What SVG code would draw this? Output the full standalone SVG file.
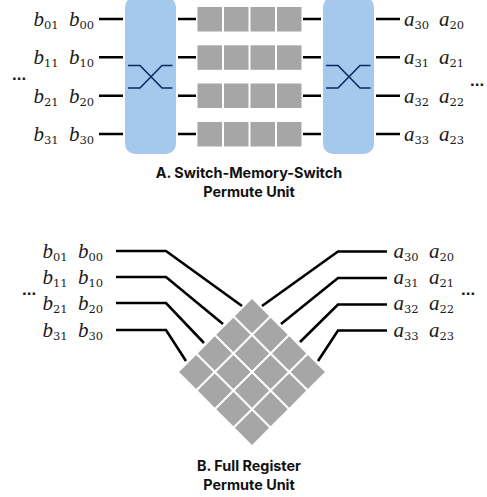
<svg xmlns="http://www.w3.org/2000/svg" width="487" height="497" viewBox="0 0 487 497">
<style>
.w{fill:none;stroke:#000;stroke-width:2.6}
.x{fill:none;stroke:#0b2a66;stroke-width:1.6}
.s{fill:#a5c9ec}
.t{fill:#a6a6a6}
.m{font-family:"Liberation Serif",serif;font-style:italic;font-size:21px;fill:#1a1a1a}
.m tspan{font-family:"DejaVu Serif",serif;font-style:normal;font-size:11.5px}
.d{font-family:"Liberation Sans",sans-serif;font-size:17px;font-weight:bold;fill:#1a1a1a}
.c{font-family:"Inter","Liberation Sans",sans-serif;font-weight:700;font-size:14.4px;text-anchor:middle;fill:#111}
</style>
<defs>
<rect id="tile" class="t" x="0" y="0" width="24.5" height="24.5"/>
<rect id="dt" class="t" x="-12.1" y="-12.1" width="24.2" height="24.2" transform="rotate(45)"/>
</defs>
<rect x="0" y="0" width="487" height="497" fill="#fff"/>
<g id="connectors">
<path class="w" d="M99 19H123M99 57.3H123M99 95.7H123M99 134H123"/>
<path class="w" d="M178 19H196M178 57.3H196M178 95.7H196M178 134H196"/>
<path class="w" d="M303 19H321M303 57.3H321M303 95.7H321M303 134H321"/>
<path class="w" d="M376 19H400M376 57.3H400M376 95.7H400M376 134H400"/>
<path class="w" d="M116 251H166L242 306M116 277H166L223 324M116 303H166L204 343M116 330H166L186 361"/>
<path class="w" d="M387 251.5H338L262 306M387 278H338L281 324M387 304.5H338L300 342M387 330.5H338L318 361"/>
</g>
<g id="switch-left">
<rect class="s" x="125" y="-3" width="51" height="157" rx="10"/>
<path class="x" d="M128 65.5H140L162 88H172.500M128 88H140L162 65.500H172.500"/>
</g>
<g id="switch-right">
<rect class="s" x="323" y="-3" width="51" height="157" rx="10"/>
<path class="x" d="M326 65.500H338L360 88H370.500M326 88H338L360 65.500H370.500"/>
</g>
<g id="memory">
<use href="#tile" x="197.500" y="7"/><use href="#tile" x="224" y="7"/><use href="#tile" x="250.500" y="7"/><use href="#tile" x="277" y="7"/>
<use href="#tile" x="197.500" y="45.300"/><use href="#tile" x="224" y="45.300"/><use href="#tile" x="250.500" y="45.300"/><use href="#tile" x="277" y="45.300"/>
<use href="#tile" x="197.500" y="83.500"/><use href="#tile" x="224" y="83.500"/><use href="#tile" x="250.500" y="83.500"/><use href="#tile" x="277" y="83.500"/>
<use href="#tile" x="197.500" y="122"/><use href="#tile" x="224" y="122"/><use href="#tile" x="250.500" y="122"/><use href="#tile" x="277" y="122"/>
</g>
<g id="register">
<use href="#dt" x="252" y="316.200"/>
<use href="#dt" x="233.400" y="334.800"/><use href="#dt" x="270.600" y="334.800"/>
<use href="#dt" x="214.800" y="353.400"/><use href="#dt" x="252" y="353.400"/><use href="#dt" x="289.200" y="353.400"/>
<use href="#dt" x="196.200" y="372"/><use href="#dt" x="233.400" y="372"/><use href="#dt" x="270.600" y="372"/><use href="#dt" x="307.800" y="372"/>
<use href="#dt" x="214.800" y="390.600"/><use href="#dt" x="252" y="390.600"/><use href="#dt" x="289.200" y="390.600"/>
<use href="#dt" x="233.400" y="409.200"/><use href="#dt" x="270.600" y="409.200"/>
<use href="#dt" x="252" y="427.800"/>
</g>
<g id="labels-a">
<text class="m" x="33.500" y="26">b<tspan dy="3">01</tspan></text><text class="m" x="69" y="26">b<tspan dy="3">00</tspan></text>
<text class="m" x="33.500" y="64">b<tspan dy="3">11</tspan></text><text class="m" x="69" y="64">b<tspan dy="3">10</tspan></text>
<text class="m" x="33.500" y="103">b<tspan dy="3">21</tspan></text><text class="m" x="69" y="103">b<tspan dy="3">20</tspan></text>
<text class="m" x="33.500" y="141">b<tspan dy="3">31</tspan></text><text class="m" x="69" y="141">b<tspan dy="3">30</tspan></text>
<text class="d" x="12" y="80">...</text>
<text class="m" x="404" y="26">a<tspan dy="3">30</tspan></text><text class="m" x="439" y="26">a<tspan dy="3">20</tspan></text>
<text class="m" x="404" y="64">a<tspan dy="3">31</tspan></text><text class="m" x="439" y="64">a<tspan dy="3">21</tspan></text>
<text class="m" x="404" y="103">a<tspan dy="3">32</tspan></text><text class="m" x="439" y="103">a<tspan dy="3">22</tspan></text>
<text class="m" x="404" y="141">a<tspan dy="3">33</tspan></text><text class="m" x="439" y="141">a<tspan dy="3">23</tspan></text>
<text class="d" x="470" y="86">...</text>
<text class="c" x="249" y="178">A. Switch-Memory-Switch</text>
<text class="c" x="249" y="197">Permute Unit</text>
</g>
<g id="labels-b">
<text class="m" x="42.500" y="258">b<tspan dy="3">01</tspan></text><text class="m" x="78" y="258">b<tspan dy="3">00</tspan></text>
<text class="m" x="42.500" y="284">b<tspan dy="3">11</tspan></text><text class="m" x="78" y="284">b<tspan dy="3">10</tspan></text>
<text class="m" x="42.500" y="310">b<tspan dy="3">21</tspan></text><text class="m" x="78" y="310">b<tspan dy="3">20</tspan></text>
<text class="m" x="42.500" y="337">b<tspan dy="3">31</tspan></text><text class="m" x="78" y="337">b<tspan dy="3">30</tspan></text>
<text class="d" x="22" y="295">...</text>
<text class="m" x="393.500" y="258">a<tspan dy="3">30</tspan></text><text class="m" x="429" y="258">a<tspan dy="3">20</tspan></text>
<text class="m" x="393.500" y="284">a<tspan dy="3">31</tspan></text><text class="m" x="429" y="284">a<tspan dy="3">21</tspan></text>
<text class="m" x="393.500" y="310">a<tspan dy="3">32</tspan></text><text class="m" x="429" y="310">a<tspan dy="3">22</tspan></text>
<text class="m" x="393.500" y="337">a<tspan dy="3">33</tspan></text><text class="m" x="429" y="337">a<tspan dy="3">23</tspan></text>
<text class="d" x="461" y="295">...</text>
<text class="c" x="249" y="471">B. Full Register</text>
<text class="c" x="249" y="490">Permute Unit</text>
</g>
</svg>
